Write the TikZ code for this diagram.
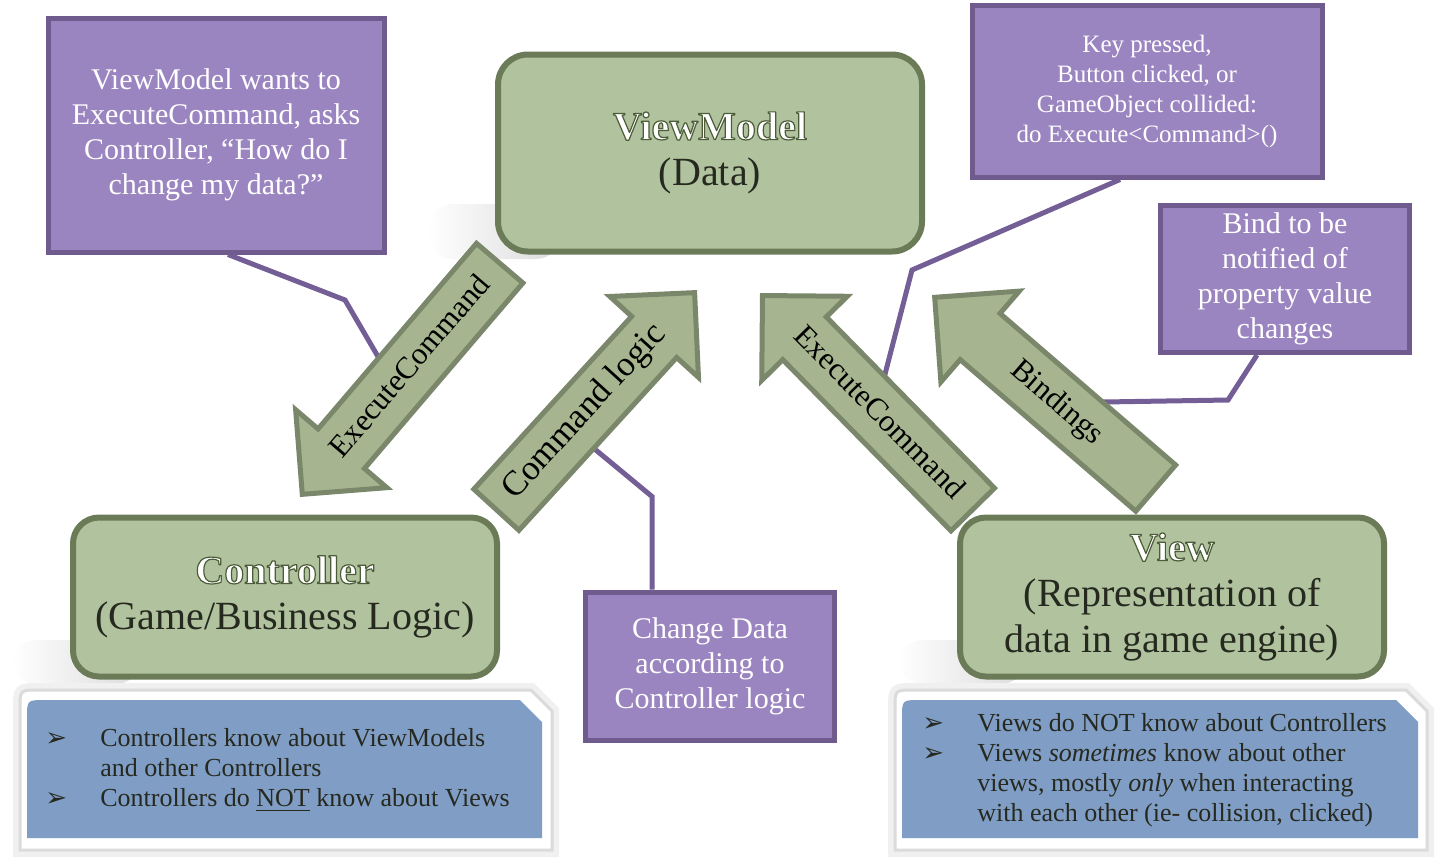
\documentclass[tikz,border=0pt]{standalone}
\usepackage{fontspec}
\setmainfont{Liberation Serif}
\newfontfamily\arrowsym{DejaVu Sans}
\usetikzlibrary{positioning,shapes.arrows,backgrounds,fadings}

\definecolor{notefill}{RGB}{155,133,193}
\definecolor{noteedge}{RGB}{111,91,142}
\definecolor{linkcol}{RGB}{115,94,150}
\definecolor{boxfill}{RGB}{177,195,158}
\definecolor{boxedge}{RGB}{107,123,87}
\definecolor{arrowfill}{RGB}{166,181,143}
\definecolor{arrowedge}{RGB}{122,135,106}
\definecolor{infofill}{RGB}{127,157,197}
\definecolor{darktext}{RGB}{38,41,31}

% white title with a dark green outline
\newcommand\glowtitle[1]{{\bfseries\color{white}\special{pdf:literal direct 0.30 0.36 0.22 RG 0.6 w 1 j 2 Tr}#1\special{pdf:literal direct 0 Tr}}}
\newcommand\bul{\makebox[27.5pt][l]{\arrowsym\fontsize{13}{14}\selectfont ➢}}

\begin{document}
\begin{tikzpicture}[
  x=0.5pt, y=-0.5pt,
  note/.style={draw=noteedge, fill=notefill, line width=2.5pt, text=white, align=center, inner sep=2pt, font=\fontsize{15}{17.5}\selectfont},
  model/.style={draw=boxedge, fill=boxfill, line width=3pt, rounded corners=13pt, text=darktext, align=center, minimum width=212pt, minimum height=79.5pt, font=\fontsize{20}{23}\selectfont},
  blockarrow/.style={single arrow, draw=arrowedge, fill=arrowfill, line width=2.5pt, single arrow head extend=14.75pt, single arrow tip angle=90, minimum width=58pt, inner ysep=6pt, inner xsep=2pt, text height=12pt, text depth=4pt, anchor=tip, font=\fontsize{15.5}{18}\selectfont},
  link/.style={draw=linkcol, line width=2.5pt},
  infoframe/.style={fill=white, draw=black!14, line width=1.5pt, preaction={draw=black!6, line width=7pt}},
  infotext/.style={anchor=west, align=left, inner sep=0pt, text=darktext, font=\fontsize{13}{15}\selectfont}
]
\useasboundingbox (0,0) rectangle (1444,864);

% notes
\node[note, minimum width=168pt, minimum height=117pt] (asknote) at (216,135) {ViewModel wants to\\ExecuteCommand, asks\\Controller, “How do I\\change my data?”};
\node[note, minimum width=175pt, minimum height=86pt, font=\fontsize{12.5}{15}\selectfont] (keynote) at (1147,91) {Key pressed,\\Button clicked, or\\GameObject collided:\\do Execute<Command>()};
\node[note, minimum width=124.5pt, minimum height=73.5pt] (bindnote) at (1285,279) {Bind to be\\notified of\\property value\\changes};
\node[note, minimum width=124.5pt, minimum height=74pt] (changenote) at (710,666) {Change Data\\according to\\Controller logic};

% main boxes
\node[model, minimum height=98.5pt, rounded corners=15pt] (viewmodel) at (710,153) {\glowtitle{ViewModel}\\(Data)};
\node[model] (controller) at (285,597) {\glowtitle{Controller}\\(Game/Business Logic)};
\node[model] (view) at (1172,597) {\glowtitle{View}\\(Representation of\\data in game engine)};

% block arrows
\node[blockarrow, shape border rotate=180, rotate=49.5, minimum height=152pt] (execdown) at (300,497) {ExecuteCommand};
\node[blockarrow, rotate=47.6, minimum height=147pt, font=\fontsize{17.5}{20}\selectfont] (cmdlogic) at (697,290) {Command logic};
\node[blockarrow, shape border rotate=180, rotate=-45.5, minimum height=150pt] (execup) at (760,293) {ExecuteCommand};
\node[blockarrow, shape border rotate=180, rotate=-40.8, minimum height=146pt] (bindings) at (932,295) {Bindings};

\coordinate (cExec) at (380,360);
\coordinate (cLogic) at (591,446);
\coordinate (cKey) at (884,378);
\coordinate (cBind) at (1103,402);

\begin{scope}[on background layer]
  % soft shadows
  \fill[black, opacity=.14, path fading=west, rounded corners=12pt] (428,204) rectangle (560,259);
  \fill[black, opacity=.14, path fading=west, rounded corners=12pt] (12,640) rectangle (140,684);
  \fill[black, opacity=.14, path fading=west, rounded corners=12pt] (898,640) rectangle (1025,684);
  % callout lines
  \draw[link] ([xshift=6pt]asknote.south) -- (345,300) -- (cExec);
  \draw[link] ([xshift=-29pt]changenote.north) -- ++(0,-93) -- (cLogic);
  \draw[link] ([xshift=-13.5pt]keynote.south) -- (912,270) -- (cKey);
  \draw[link] ([xshift=-14pt]bindnote.south) -- (1228,400) -- (cBind);
\end{scope}

% info panels
\path[infoframe] (20,850) -- (20,708) .. controls (20,690) .. (38,690) -- (531,690) -- (552,711) -- (552,850) -- cycle;
\fill[infofill] (27,838) -- (27,718) .. controls (27,700) .. (45,700) -- (520,700) -- (542,722) -- (542,838) -- cycle;
\node[infotext] (ctrlinfo) at (45,770) {\bul Controllers know about ViewModels\\\hspace*{27.5pt}and other Controllers\\\bul Controllers do \underline{NOT} know about Views};

\path[infoframe] (895,850) -- (895,708) .. controls (895,690) .. (913,690) -- (1406,690) -- (1427,711) -- (1427,850) -- cycle;
\fill[infofill] (902,838) -- (902,718) .. controls (902,700) .. (920,700) -- (1396,700) -- (1418,722) -- (1418,838) -- cycle;
\node[infotext] (viewinfo) at (922,770) {\bul Views do NOT know about Controllers\\\bul Views \textit{sometimes} know about other\\\hspace*{27.5pt}views, mostly \textit{only} when interacting\\\hspace*{27.5pt}with each other (ie- collision, clicked)};
\end{tikzpicture}
\end{document}
